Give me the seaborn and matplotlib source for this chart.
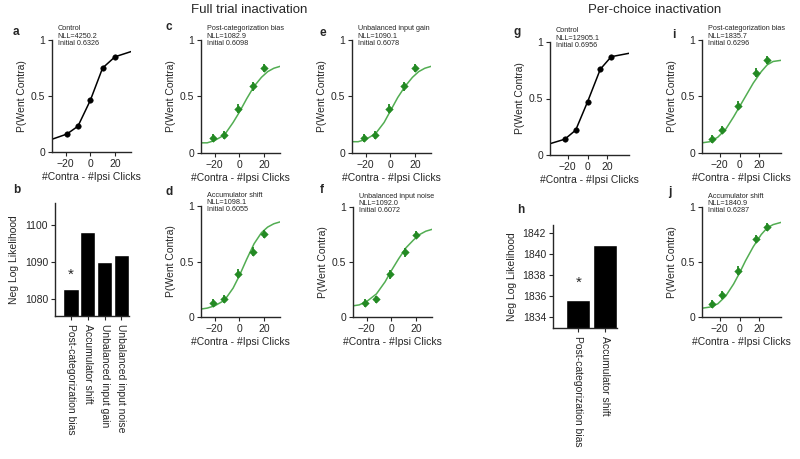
import numpy as np
import pandas as pd
import matplotlib
matplotlib.use("Agg")
import matplotlib.pyplot as plt
import seaborn as sns

# ---- data ----
clicks_full = [-21, -12, -1, 11, 20]
clicks_ctrl = [-19, -10, 0, 10, 20]
clicks_pc = [-28, -18, -2, 17, 28]
clicks_pc_ctrl = [-23, -12, 0, 13, 24]

p_ctrl_full = [0.16, 0.23, 0.46, 0.75, 0.85]
p_full = [0.13, 0.16, 0.39, 0.59, 0.75]
p_ctrl_pc = [0.14, 0.22, 0.47, 0.76, 0.87]
p_pc = [0.12, 0.20, 0.42, 0.71, 0.82]
p_err = [0.035, 0.035, 0.04, 0.04, 0.035]

fit_x_ctrl = [-32, -19, -10, 0, 10, 20, 34]
fit_ctrl_full = [0.11, 0.16, 0.23, 0.46, 0.75, 0.85, 0.90]
fit_x_pc_ctrl = [-38, -23, -12, 0, 13, 24, 42]
fit_ctrl_pc = [0.10, 0.14, 0.22, 0.47, 0.76, 0.87, 0.90]

fit_x_full = [-32, -26, -20, -12, -5, 0, 6, 12, 18, 23, 28, 34]
fit_postcat = [0.09, 0.09, 0.11, 0.16, 0.27, 0.36, 0.48, 0.59, 0.67, 0.72, 0.75, 0.77]
fit_accum = [0.07, 0.08, 0.10, 0.15, 0.26, 0.37, 0.52, 0.66, 0.76, 0.81, 0.84, 0.86]
fit_gain = [0.10, 0.10, 0.12, 0.17, 0.27, 0.37, 0.49, 0.59, 0.67, 0.72, 0.75, 0.77]
fit_noise = [0.10, 0.11, 0.14, 0.21, 0.32, 0.42, 0.53, 0.63, 0.70, 0.75, 0.78, 0.80]

fit_x_pc = [-38, -30, -22, -14, -6, 0, 6, 14, 22, 28, 34, 42]
fit_pc_postcat = [0.09, 0.10, 0.14, 0.21, 0.32, 0.41, 0.50, 0.62, 0.72, 0.78, 0.81, 0.82]
fit_pc_accum = [0.08, 0.09, 0.12, 0.19, 0.30, 0.40, 0.51, 0.64, 0.75, 0.81, 0.84, 0.86]

models_full = ["Post-categorization bias", "Accumulator shift",
               "Unbalanced input gain", "Unbalanced input noise"]
nll_full = [1082.9, 1098.1, 1090.1, 1092.0]
models_pc = ["Post-categorization bias", "Accumulator shift"]
nll_pc = [1835.7, 1840.9]

# ---- style ----
sns.set_style("ticks")
plt.rcParams['font.family'] = ['Liberation Sans', 'DejaVu Sans']
plt.rcParams['axes.linewidth'] = 1.0

GREEN_LINE = "#52ad52"
GREEN_DOT = "#238a23"
W, H = 800, 459
fig = plt.figure(figsize=(8, 4.59), dpi=100)


def px_axes(x0, y0, x1, y1):
    return fig.add_axes([x0 / W, 1 - y1 / H, (x1 - x0) / W, (y1 - y0) / H])


def letter(x, y, s):
    fig.text(x / W, 1 - y / H, s, fontsize=8.5, fontweight="bold", ha="left", va="center")


def psych(box, xlim, cx, cy, px, py, color, info, green):
    ax = px_axes(*box)
    sns.lineplot(x=cx, y=cy, ax=ax, color=color, lw=1.1)
    if green:
        ax.errorbar(px, py, yerr=p_err, fmt="none", ecolor=GREEN_DOT, elinewidth=1.3, capsize=0)
        sns.scatterplot(x=px, y=py, ax=ax, color=GREEN_DOT, marker="D", s=15, edgecolor=GREEN_DOT, zorder=3)
    else:
        sns.scatterplot(x=px, y=py, ax=ax, color="black", s=16, edgecolor="black", zorder=3)
    ax.set_xlim(*xlim)
    ax.set_ylim(0, 1)
    ax.set_yticks([0, 0.5, 1])
    ax.set_yticklabels(["0", "0.5", "1"])
    ax.set_xticks([-20, 0, 20])
    ax.tick_params(labelsize=7.5, length=3, width=0.8, pad=2)
    ax.set_ylabel("P(Went Contra)", fontsize=7.5, labelpad=3)
    ax.set_xlabel("#Contra - #Ipsi Clicks", fontsize=7.5, labelpad=2)
    ax.text(0.07, 1.13, info, transform=ax.transAxes, fontsize=5.2, va="top", ha="left",
            linespacing=1.05, clip_on=False)
    sns.despine(ax=ax)
    return ax


def bars(box, names, vals, ylim, yticks, star):
    ax = px_axes(*box)
    sns.barplot(x=names, y=vals, ax=ax, color="black", width=0.9, saturation=1)
    ax.set_ylim(*ylim)
    ax.set_yticks(yticks)
    ax.set_xlim(-0.95, len(names) - 0.55)
    ax.set_xticks(range(len(names)))
    ax.set_xticklabels(names, rotation=270, fontsize=7.5)
    ax.tick_params(axis="y", labelsize=7.5, length=3, width=0.8, pad=2)
    ax.tick_params(axis="x", length=3, width=0.8, pad=3)
    ax.set_ylabel("Neg Log Likelihood", fontsize=7.5, labelpad=4)
    ax.text(0, star, "*", ha="center", va="center", fontsize=11)
    sns.despine(ax=ax)
    return ax


full_lim = (-31, 33)
pc_lim = (-38, 42)

# full-trial inactivation column
psych((52, 40, 131, 152), full_lim, fit_x_ctrl, fit_ctrl_full, clicks_ctrl, p_ctrl_full, "black",
      "Control\nNLL=4250.2\nInitial 0.6326", False)
psych((201, 40, 280, 153), full_lim, fit_x_full, fit_postcat, clicks_full, p_full, GREEN_LINE,
      "Post-categorization bias\nNLL=1082.9\nInitial 0.6098", True)
psych((352, 40, 431, 153), full_lim, fit_x_full, fit_gain, clicks_full, p_full, GREEN_LINE,
      "Unbalanced input gain\nNLL=1090.1\nInitial 0.6078", True)
psych((201, 206, 280, 317), full_lim, fit_x_full, fit_accum, clicks_full, p_full, GREEN_LINE,
      "Accumulator shift\nNLL=1098.1\nInitial 0.6055", True)
psych((353, 207, 432, 317), full_lim, fit_x_full, fit_noise, clicks_full, p_full, GREEN_LINE,
      "Unbalanced input noise\nNLL=1092.0\nInitial 0.6072", True)
bars((55, 203, 129, 316), models_full, nll_full, (1075.5, 1106), [1080, 1090, 1100], 1086.5)

# per-choice inactivation column
psych((550, 42, 629, 155), pc_lim, fit_x_pc_ctrl, fit_ctrl_pc, clicks_pc_ctrl, p_ctrl_pc, "black",
      "Control\nNLL=12905.1\nInitial 0.6956", False)
psych((702, 40, 781, 153), pc_lim, fit_x_pc, fit_pc_postcat, clicks_pc, p_pc, GREEN_LINE,
      "Post-categorization bias\nNLL=1835.7\nInitial 0.6296", True)
psych((702, 207, 781, 317), pc_lim, fit_x_pc, fit_pc_accum, clicks_pc, p_pc, GREEN_LINE,
      "Accumulator shift\nNLL=1840.9\nInitial 0.6287", True)
bars((553, 225, 617, 328), models_pc, nll_pc, (1833.0, 1842.8), [1834, 1836, 1838, 1840, 1842], 1837.3)

# panel letters and column titles
for s, x, y in [("a", 13, 32), ("b", 13, 190), ("c", 165, 27), ("d", 165, 192), ("e", 320, 33),
                ("f", 320, 190), ("g", 514, 32), ("h", 517, 210), ("i", 672, 35), ("j", 668, 192)]:
    letter(x, y, s)
fig.text(249 / W, 1 - 10 / H, "Full trial inactivation", fontsize=9.5, ha="center", va="center")
fig.text(655 / W, 1 - 10 / H, "Per-choice inactivation", fontsize=9.5, ha="center", va="center")

fig.savefig("out.png", dpi=100, facecolor="white")
